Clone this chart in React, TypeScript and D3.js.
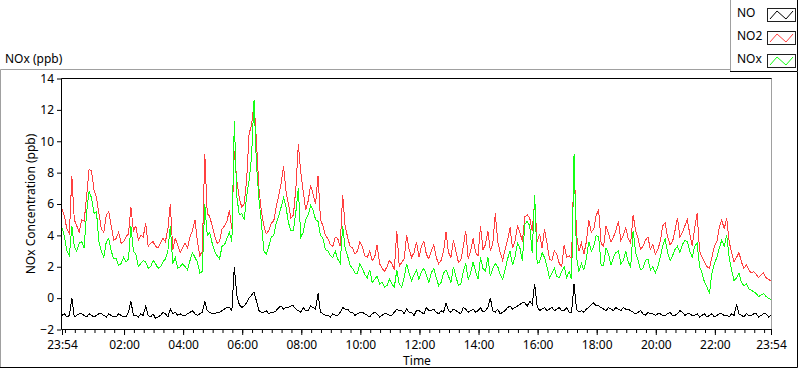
import React, { useEffect, useRef } from 'react'
import * as d3 from 'd3'

// one sample every 5 minutes, starting 23:54
const startTime = new Date(2000, 0, 1, 23, 54)
const endTime = new Date(2000, 0, 2, 23, 54)
const sampleMinutes = d3.range(0, 1441, 5)

const seriesNames = ['NO', 'NO2', 'NOx']
const seriesColors = ['#000000', '#ff4040', '#14ff14']

const noValues = [
  -1.1, -1.0, -1.2, -1.1, 0.0, -1.2, -1.1, -1.0, -1.0, -1.1,
  -1.2, -1.0, -1.1, -1.2, -1.1, -1.0, -1.0, -1.1, -1.2, -1.0,
  -1.1, -1.2, -1.2, -1.0, -1.1, -1.2, -1.2, -0.9, -0.2, -1.1,
  -1.1, -1.2, -1.0, -1.1, -0.5, -1.1, -1.2, -1.0, -1.3, -1.2,
  -1.1, -0.9, -1.0, -1.2, -0.7, -1.0, -0.9, -1.1, -1.0, -1.1,
  -1.1, -1.0, -0.9, -0.8, -1.0, -1.1, -1.0, -0.9, -0.2, -0.8,
  -0.9, -1.0, -1.0, -0.9, -0.9, -0.8, -0.7, -0.6, -0.6, -0.8,
  2.0, 0.2, -0.4, -0.6, -0.5, -0.3, 0.0, 0.2, 0.4, -0.2,
  -0.8, -0.9, -0.9, -0.8, -1.0, -0.9, -0.9, -0.8, -0.6, -0.5,
  -0.7, -0.6, -0.6, -0.5, -0.5, -0.7, -0.8, -0.9, -0.6, -0.8,
  -0.8, -0.5, -0.6, -0.7, 0.3, -0.9, -1.0, -1.1, -1.1, -1.2,
  -1.0, -1.1, -1.1, -0.9, -0.6, -0.7, -0.7, -0.9, -0.9, -1.1,
  -1.0, -0.9, -0.9, -1.0, -1.1, -1.2, -1.0, -0.9, -1.0, -1.2,
  -1.1, -1.0, -1.0, -1.1, -1.1, -0.9, -0.7, -0.8, -0.8, -1.0,
  -0.7, -0.9, -0.9, -1.1, -0.8, -0.8, -0.9, -1.0, -0.6, -0.8,
  -0.8, -0.7, -0.9, -1.0, -0.8, -0.9, -0.3, -0.8, -0.9, -0.7,
  -0.8, -0.9, -1.0, -0.6, -0.7, -0.9, -0.8, -0.7, -0.9, -0.8,
  -0.6, -0.9, -0.8, -0.6, 0.0, -0.8, -0.9, -0.7, -1.0, -0.9,
  -0.8, -0.6, -0.5, -0.7, -0.6, -0.5, -0.4, -0.3, -0.3, -0.5,
  -0.2, -0.4, 0.9, -0.5, -0.8, -0.7, -0.6, -0.8, -0.7, -0.6,
  -0.8, -0.7, -0.6, -0.8, -0.8, -0.6, -0.9, -0.9, 0.9, -0.7,
  -0.9, -0.8, -0.9, -0.7, -0.6, -0.4, -0.3, -0.5, -0.5, -0.6,
  -0.7, -0.8, -0.6, -0.7, -0.8, -0.6, -0.7, -0.8, -0.6, -0.7,
  -0.7, -0.8, -0.9, -1.0, -0.9, -0.8, -1.0, -1.1, -0.9, -1.0,
  -1.0, -1.1, -1.0, -1.0, -1.1, -1.1, -1.0, -0.9, -1.1, -1.1,
  -1.0, -0.8, -0.9, -1.1, -1.0, -1.0, -1.1, -1.1, -1.0, -1.2,
  -1.1, -1.0, -1.2, -1.1, -1.0, -1.2, -1.1, -1.0, -1.0, -1.1,
  -1.1, -1.2, -1.0, -1.1, -0.4, -1.0, -1.1, -1.2, -1.0, -1.1,
  -1.1, -1.0, -1.0, -1.2, -1.1, -1.0, -1.0, -1.2, -1.1
]

const no2Values = [
  5.7, 5.2, 4.4, 4.1, 7.8, 5.0, 4.6, 4.2, 5.0, 4.9,
  6.5, 8.2, 8.1, 6.9, 6.4, 5.4, 4.4, 4.2, 5.3, 5.5,
  4.6, 3.7, 3.8, 4.2, 3.5, 3.6, 3.9, 4.1, 5.8, 4.3,
  4.6, 3.7, 4.0, 3.9, 4.8, 3.3, 3.5, 3.6, 3.3, 3.2,
  3.5, 3.8, 3.6, 4.4, 6.0, 3.1, 3.8, 3.4, 2.9, 3.2,
  3.5, 3.2, 3.9, 4.3, 5.0, 3.6, 2.7, 3.0, 9.2, 5.4,
  5.2, 4.6, 4.0, 3.5, 3.6, 4.4, 4.6, 4.9, 5.6, 4.4,
  9.4, 7.5, 6.4, 5.8, 6.0, 7.5, 10.5, 11.0, 12.5, 10.0,
  7.0, 5.5, 4.6, 4.1, 4.3, 4.8, 4.9, 5.8, 6.5, 7.3,
  8.4, 6.8, 6.0, 5.1, 5.3, 7.0, 9.8, 8.0, 6.8, 5.6,
  6.2, 7.2, 6.6, 6.0, 7.8, 5.0, 4.6, 4.0, 3.8, 3.4,
  3.3, 3.9, 3.8, 3.3, 6.6, 4.6, 3.9, 3.3, 3.2, 2.8,
  3.0, 3.6, 3.3, 2.7, 2.6, 3.0, 2.4, 2.6, 3.4, 2.2,
  1.9, 1.7, 2.0, 2.4, 2.2, 1.8, 4.3, 2.0, 2.3, 2.5,
  4.0, 3.1, 2.6, 2.9, 3.6, 2.6, 3.3, 3.6, 2.8, 2.5,
  3.0, 3.4, 2.6, 2.2, 2.4, 3.0, 4.2, 2.9, 2.6, 3.7,
  3.0, 2.3, 2.4, 3.3, 4.3, 2.5, 3.0, 3.8, 2.9, 2.7,
  4.6, 3.1, 3.4, 4.3, 3.0, 3.5, 5.4, 3.6, 2.9, 2.4,
  3.1, 3.7, 4.5, 3.2, 3.6, 4.6, 4.2, 3.6, 5.2, 5.3,
  5.1, 4.3, 6.2, 3.6, 4.1, 3.2, 4.4, 3.5, 2.5, 2.4,
  3.0, 2.8, 2.2, 2.0, 3.4, 2.6, 2.7, 2.5, 8.8, 4.0,
  3.0, 3.5, 2.8, 3.6, 5.0, 4.2, 4.4, 5.3, 5.6, 3.5,
  3.3, 4.6, 4.1, 3.6, 3.9, 4.3, 4.9, 3.7, 4.0, 4.5,
  3.8, 3.5, 5.3, 4.3, 3.8, 3.1, 3.3, 3.7, 3.9, 3.1,
  3.4, 2.8, 3.1, 3.6, 4.6, 4.8, 3.9, 3.4, 3.6, 4.3,
  5.1, 3.9, 4.2, 4.6, 5.0, 4.1, 3.3, 4.5, 5.4, 3.0,
  2.6, 2.3, 2.0, 1.9, 2.6, 3.3, 3.6, 4.5, 5.0, 4.4,
  5.1, 3.6, 2.9, 2.3, 2.6, 2.9, 2.3, 1.9, 2.1, 1.8,
  1.6, 1.7, 1.5, 1.3, 1.5, 1.6, 1.3, 1.2, 1.1
]

const noxValues = [
  4.5, 3.9, 3.0, 2.7, 4.6, 3.3, 3.0, 3.5, 3.6, 3.2,
  5.5, 6.8, 6.4, 5.4, 5.5, 3.6, 3.0, 2.6, 3.6, 3.8,
  3.0, 2.5, 2.5, 2.1, 2.2, 2.6, 2.3, 2.5, 4.6, 3.0,
  2.8, 2.0, 2.2, 2.4, 2.3, 1.9, 2.0, 2.4, 2.2, 1.9,
  2.0, 2.3, 2.5, 3.0, 4.6, 2.2, 2.6, 1.9, 2.0, 2.2,
  2.0, 1.8, 2.4, 2.9, 2.6, 2.3, 1.6, 1.7, 6.0, 4.0,
  4.2, 3.5, 3.0, 2.7, 2.5, 3.3, 3.4, 3.8, 4.2, 3.6,
  11.3, 6.5, 5.3, 5.4, 5.0, 6.5, 7.5, 9.0, 12.6, 8.5,
  6.3, 4.8, 3.0, 2.8, 3.3, 3.9, 4.0, 4.8, 5.2, 5.8,
  6.4, 5.8, 4.8, 4.3, 4.3, 5.5, 7.0, 3.9, 4.2, 5.0,
  5.3, 5.9, 5.6, 5.0, 4.9, 4.0, 3.8, 3.1, 3.0, 2.7,
  2.6, 3.0, 2.5, 2.2, 4.6, 3.2, 2.7, 2.1, 1.9, 1.6,
  1.6, 2.2, 1.9, 1.5, 1.3, 1.8, 1.0, 1.2, 1.4, 0.9,
  1.0, 0.7, 0.8, 1.2, 0.9, 0.7, 1.8, 0.9, 0.7, 1.3,
  2.2, 1.6, 1.1, 1.5, 1.8, 1.2, 1.7, 1.9, 1.5, 1.0,
  1.6, 1.9, 1.3, 0.8, 1.0, 1.6, 1.8, 1.4, 1.0, 2.0,
  1.4, 0.8, 0.9, 1.7, 2.2, 1.2, 1.6, 2.3, 1.7, 1.2,
  2.6, 1.9, 1.7, 2.6, 1.4, 1.9, 2.2, 2.0, 1.5, 1.2,
  1.8, 2.5, 3.0, 2.1, 2.6, 3.5, 3.2, 2.4, 4.7, 4.9,
  4.6, 2.9, 6.6, 2.2, 2.3, 2.9, 2.6, 2.0, 1.3, 1.6,
  1.9, 1.4, 1.3, 1.7, 2.0, 1.3, 1.7, 1.2, 9.2, 2.6,
  1.7, 2.2, 1.8, 2.5, 3.6, 3.0, 3.3, 4.0, 3.9, 2.1,
  2.1, 3.2, 2.8, 2.1, 2.6, 2.9, 3.0, 2.2, 2.4, 3.0,
  2.3, 2.0, 4.3, 2.9, 2.4, 1.8, 1.9, 2.4, 2.5, 1.8,
  2.0, 1.6, 2.0, 2.6, 3.3, 3.8, 2.9, 2.4, 2.7, 3.1,
  3.3, 2.9, 3.4, 3.7, 3.6, 3.0, 2.6, 3.3, 3.5, 2.0,
  1.6, 1.0, 0.7, 0.3, 1.6, 2.2, 2.6, 3.2, 3.7, 3.3,
  4.0, 2.6, 1.8, 1.1, 1.3, 1.6, 1.0, 0.8, 0.9, 0.6,
  0.5, 0.4, 0.3, 0.1, 0.2, 0.3, 0.1, 0.0, -0.1
]

const yTicks = [-2, 0, 2, 4, 6, 8, 10, 12, 14]
const majorHours = [2, 4, 6, 8, 10, 12, 14, 16, 18, 20, 22]

const FONT = "'Segoe UI', 'Noto Sans', sans-serif"

export default function App() {
  const ref = useRef(null)

  useEffect(() => {
    const svg = d3.select(ref.current)
    svg.selectAll('*').remove()

    const width = 800, height = 369
    const plot = {left: 62, top: 78, right: 772, bottom: 330}

    // panel frame
    svg.append('rect').attr('width', width).attr('height', height).attr('fill', '#fff')
    svg.append('path').attr('d', 'M0.5,368 V69.5 H730').attr('fill', 'none').attr('stroke', '#a0a0a0')
    svg.append('path').attr('d', 'M0,367.5 H797.5 V0').attr('fill', 'none').attr('stroke', '#000')

    svg.append('text').attr('x', 5).attr('y', 63)
      .attr('font-family', FONT).attr('font-size', 12).text('NOx (ppb)')

    const x = d3.scaleTime().domain([startTime, endTime]).range([plot.left, plot.right - 1])
    const y = d3.scaleLinear().domain([-2, 14]).range([329.5, 78.5])

    const timeAt = (m) => new Date(startTime.getTime() + m * 60000)

    // plot area border
    svg.append('rect').attr('x', plot.left - 0.5).attr('y', plot.top + 0.5)
      .attr('width', plot.right - plot.left).attr('height', plot.bottom - plot.top - 1)
      .attr('fill', '#fff').attr('stroke', '#a0a0a0')
    svg.append('path')
      .attr('d', `M${plot.left - 0.5},${plot.bottom - 0.5} V${plot.top + 0.5} H${plot.right - 0.5}`)
      .attr('fill', 'none').attr('stroke', '#000')
    svg.append('path')
      .attr('d', `M${plot.left - 0.5},${plot.bottom - 0.5} H${plot.right}`)
      .attr('fill', 'none').attr('stroke', '#000')

    // y axis
    const yAxis = svg.append('g').attr('transform', `translate(${plot.left - 1},0)`)
      .call(d3.axisLeft(y).tickValues(yTicks).tickSize(4).tickPadding(3).tickFormat(d3.format('d')))
    yAxis.select('.domain').remove()
    yAxis.selectAll('text').attr('font-family', FONT).attr('font-size', 12).attr('fill', '#000')

    // x axis, minor ticks every 20 minutes
    const minor = d3.timeMinute.every(20).range(timeAt(6), endTime)
    const xMinor = svg.append('g').attr('transform', `translate(0,${plot.bottom})`)
      .call(d3.axisBottom(x).tickValues(minor).tickSize(3).tickFormat(() => ''))
    xMinor.select('.domain').remove()

    const majors = [startTime, ...majorHours.map(h => new Date(2000, 0, 2, h, 0)), endTime]
    const xAxis = svg.append('g').attr('transform', `translate(0,${plot.bottom})`)
      .call(d3.axisBottom(x).tickValues(majors).tickSize(5).tickPadding(5).tickFormat(d3.timeFormat('%H:%M')))
    xAxis.select('.domain').remove()
    xAxis.selectAll('text').attr('font-family', FONT).attr('font-size', 12).attr('fill', '#000')

    svg.append('text').attr('x', (plot.left + plot.right) / 2).attr('y', 365)
      .attr('text-anchor', 'middle').attr('font-family', FONT).attr('font-size', 12).text('Time')

    svg.append('text')
      .attr('transform', `translate(35,${(plot.top + plot.bottom) / 2}) rotate(-90)`)
      .attr('text-anchor', 'middle').attr('font-family', FONT).attr('font-size', 12)
      .text('NOx Concentration (ppb)')

    // series, drawn aliased like the instrument display
    const allSeries = [noValues, no2Values, noxValues]
    const line = d3.line()
      .x((d, i) => x(timeAt(sampleMinutes[i])))
      .y(d => y(d))
    const g = svg.append('g')
    allSeries.forEach((vals, k) => {
      g.append('path').datum(vals)
        .attr('fill', 'none').attr('stroke', seriesColors[k]).attr('stroke-width', 1)
        .attr('shape-rendering', 'crispEdges')
        .attr('d', line)
    })

    // legend
    svg.append('rect').attr('x', 730).attr('y', -1).attr('width', 68).attr('height', 73).attr('fill', '#fff')
    svg.append('path').attr('d', 'M730.5,0 V71.5 H797').attr('fill', 'none').attr('stroke', '#a0a0a0')
    svg.append('path').attr('d', 'M730,71.5 H797.5 V0').attr('fill', 'none').attr('stroke', '#000')
    const lg = svg.append('g')
    seriesNames.forEach((name, k) => {
      const base = 17 + k * 23
      lg.append('text').attr('x', 737).attr('y', base)
        .attr('font-family', FONT).attr('font-size', 12).text(name)
      const bx = 767, by = base - 9
      lg.append('rect').attr('x', bx + 0.5).attr('y', by + 0.5).attr('width', 28).attr('height', 13)
        .attr('fill', '#fff').attr('stroke', '#202020')
      lg.append('polyline')
        .attr('points', `${bx + 3},${by + 11} ${bx + 10},${by + 3} ${bx + 19},${by + 11} ${bx + 26},${by + 3}`)
        .attr('fill', 'none').attr('stroke', seriesColors[k])
    })
  }, [])

  return (
    <svg ref={ref} width={800} height={369} style={{position: 'absolute', left: 0, top: 0, display: 'block'}}></svg>
  )
}
